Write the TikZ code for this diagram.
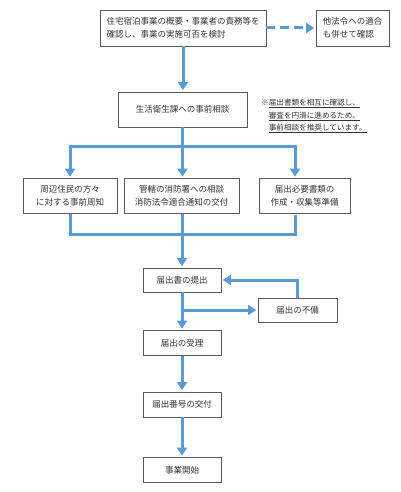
\documentclass[tikz,border=0pt]{standalone}
\usepackage{fontspec}
\setmainfont{Noto Sans CJK JP}
\usepackage{tikz}
\usetikzlibrary{arrows.meta}
\definecolor{flowblue}{HTML}{5B9BD5}

\begin{document}
\begin{tikzpicture}[x=1pt,y=-1pt,>={Triangle[length=8pt,width=10pt]},shorten >=1.5pt,
                    font=\fontsize{8.5}{12.5}\selectfont]
  \tikzstyle{box}=[draw=black!65,line width=0.8pt,inner sep=0pt,align=center,text=black!80]
  \tikzstyle{flow}=[draw=flowblue,line width=3pt]
  \useasboundingbox (0,0) rectangle (400,492);

  \node[box,align=left,minimum width=166pt,minimum height=36pt] (plan)   at (183,28)    {住宅宿泊事業の概要・事業者の責務等を\\確認し、事業の実施可否を検討};
  \node[box,align=left,minimum width=73pt,minimum height=36pt]  (other)  at (352.5,28)  {他法令への適合\\も併せて確認};
  \node[box,minimum width=129pt,minimum height=35pt]            (consult) at (182.5,109.5) {生活衛生課への事前相談};
  \node[anchor=north west,inner sep=0pt,align=left,text=black!80,
        font=\fontsize{7.6}{12.5}\selectfont]                   (memo)   at (261,99)
        {※\underline{届出書類を相互に確認し、}\\\hphantom{※}\underline{審査を円滑に進めるため、}\\\hphantom{※}\underline{事前相談を推奨しています。}};

  \node[box,minimum width=94pt,minimum height=35pt]  (notice) at (70,196)    {周辺住民の方々\\に対する事前周知};
  \node[box,minimum width=115pt,minimum height=35pt] (fire)   at (181.5,196) {管轄の消防署への相談\\消防法令適合通知の交付};
  \node[box,minimum width=91pt,minimum height=35pt]  (papers) at (304.5,196) {届出必要書類の\\作成・収集等準備};

  \node[box,minimum width=78pt,minimum height=24pt] (submit) at (182,280)   {届出書の提出};
  \node[box,minimum width=79pt,minimum height=24pt] (lack)   at (297.5,310) {届出の不備};
  \node[box,minimum width=78pt,minimum height=25pt] (accept) at (182,343)   {届出の受理};
  \node[box,minimum width=78pt,minimum height=25pt] (number) at (182,404.5) {届出番号の交付};
  \node[box,minimum width=78pt,minimum height=25pt] (start)  at (182,470)   {事業開始};

  \coordinate (splitL) at (70,146);
  \coordinate (splitR) at (295,146);
  \coordinate (mergeL) at (70,234);
  \coordinate (mergeR) at (295,234);
  \coordinate (merge)  at (182,234);

  \draw[flow,->] (plan.south) -- (plan.south |- consult.north);
  \draw[flow,->,dash pattern=on 9pt off 5pt] (plan.east) -- (other.west);

  \draw[flow,<->,shorten <=1.5pt] (splitL |- notice.north) -- (splitL) -- (splitR) -- (splitR |- papers.north);
  \draw[flow,->] (consult.south) -- (consult.south |- fire.north);

  \draw[flow] (mergeL |- notice.south) -- (mergeL) -- (mergeR) -- (mergeR |- papers.south);
  \draw[flow] (merge |- fire.south) -- (merge);
  \draw[flow,->] (merge) -- (submit.north);

  \draw[flow,->] (submit) -- (accept);
  \draw[flow,->] (submit.south |- lack.west) -- (lack.west);
  \draw[flow,->] (lack.north) |- (submit.east);
  \draw[flow,->] (accept) -- (number);
  \draw[flow,->] (number) -- (start);
\end{tikzpicture}
\end{document}
